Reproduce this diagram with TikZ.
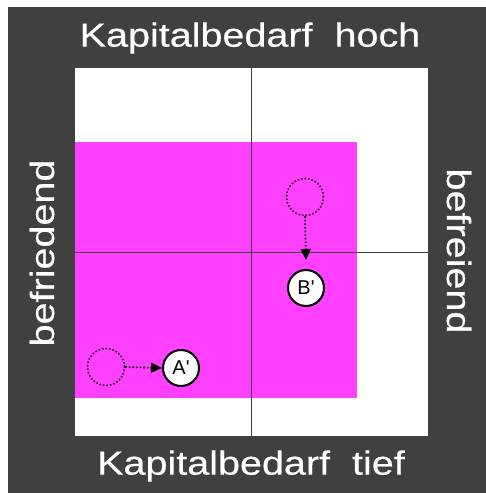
\documentclass[tikz,border=0pt]{standalone}
\usepackage{fontspec}
\setmainfont{Liberation Sans}
\newfontfamily\labelfont[FakeBold=0.4]{Liberation Sans}
\usetikzlibrary{arrows.meta}
\definecolor{frame}{HTML}{404040}
\definecolor{mag}{HTML}{FF40FF}
\begin{document}
\begin{tikzpicture}[x=1pt,y=-1pt,
  axislabel/.style={text=white,font=\labelfont\fontsize{33.5}{36}\selectfont,inner sep=0pt},
  oldpos/.style={circle,draw=black,line width=1.5pt,dotted,minimum size=37pt,inner sep=0pt},
  newpos/.style={circle,draw=black,fill=white,line width=2pt,minimum size=36pt,inner sep=0pt,font=\fontsize{20}{22}\selectfont},
  move/.style={dotted,line width=1.6pt,-{Triangle[length=11pt,width=10pt]}}]
\useasboundingbox (0,0) rectangle (486,493);
\fill[white] (0,0) rectangle (486,493);
\fill[frame] (8,7) rectangle (486,493);
\fill[white] (75,68) rectangle (428,436);
\fill[mag] (75,142) rectangle (357,398);
\coordinate (vt) at (251,68);
\coordinate (vb) at (251,436);
\coordinate (hl) at (75,252);
\coordinate (hr) at (428,252);
\draw[frame,line width=0.8pt] (vt) -- (vb);
\draw[frame,line width=0.8pt] (hl) -- (hr);
\node[axislabel] (top) at (250,38) {\scalebox{1.18}[1]{Kapitalbedarf\ \ hoch}};
\node[axislabel] (bot) at (251,466) {\scalebox{1.18}[1]{Kapitalbedarf\ \ tief}};
\node[axislabel,rotate=90] (left) at (42,253) {\scalebox{1.18}[1]{befriedend}};
\node[axislabel,rotate=-90] (right) at (459,251) {\scalebox{1.18}[1]{befreiend}};
\node[oldpos] (Bold) at (305,197) {};
\node[newpos] (B) at (306,288) {B\textquotesingle};
\node[oldpos] (Aold) at (106,367) {};
\node[newpos] (A) at (181,368) {A\textquotesingle};
\draw[move] (Bold.south) -- (306,260);
\draw[move] (Aold.east) -- (A.west);
\end{tikzpicture}
\end{document}
